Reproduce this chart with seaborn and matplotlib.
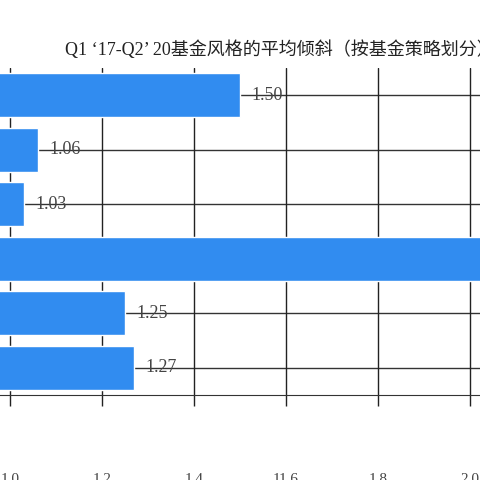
import matplotlib
matplotlib.use("Agg")
import matplotlib.pyplot as plt
import seaborn as sns
import pandas as pd

categories = ["策略1", "策略2", "策略3", "策略4", "策略5", "策略6"]
values = [1.50, 1.06, 1.03, 2.10, 1.25, 1.27]
labels = ["1.50", "1.06", "1.03", "", "1.25", "1.27"]
xticks = [1.0, 1.2, 1.4, 1.6, 1.8, 2.0]
xticklabels = ["1.0", "1.2", "1.4", "11.6", "1.8", "2.0"]
title = "Q1 ‘17-Q2’ 20基金风格的平均倾斜（按基金策略划分）"

sns.set_style("white")
plt.rcParams['font.family'] = ['Liberation Serif', 'Noto Sans CJK SC', 'DejaVu Sans']

fig = plt.figure(figsize=(4.8, 4.8), dpi=100)
ax = fig.add_axes([0.0, (480 - 395) / 480, 1.0, (395 - 68) / 480])
df = pd.DataFrame({"cat": categories, "val": values})
sns.barplot(data=df, x="val", y="cat", orient="h", color="#318CF0", saturation=1,
            width=0.8, ax=ax, zorder=3)
ax.set_xlim(0.978, 2.022)
ax.set_ylim(5.5, -0.5)
for i, (v, lab) in enumerate(zip(values, labels)):
    if lab:
        ax.hlines(i, v, 2.1, color="#333333", lw=1, zorder=1)
        ax.text(v + 0.025, i, lab, va="center", ha="left", fontsize=13, color="#444444", zorder=4)
for x in xticks:
    ax.axvline(x, color="#222222", lw=1, zorder=1)
ax.set_xticks(xticks)
ax.set_xticklabels(xticklabels, fontsize=11, color="#444444")
ax.tick_params(axis="x", length=8, width=1, color="#222222", pad=48, direction="out", bottom=True)
ax.set_yticks([])
ax.set_xlabel("")
ax.set_ylabel("")
for s in ["top", "left", "right"]:
    ax.spines[s].set_visible(False)
ax.spines["bottom"].set_color("#333333")
fig.text(65 / 480, 1 - 50 / 480, title, fontsize=13, ha="left", va="center", color="#222222",
         family=['Liberation Serif', 'Noto Sans CJK SC'])
fig.savefig("out.png", dpi=100)
